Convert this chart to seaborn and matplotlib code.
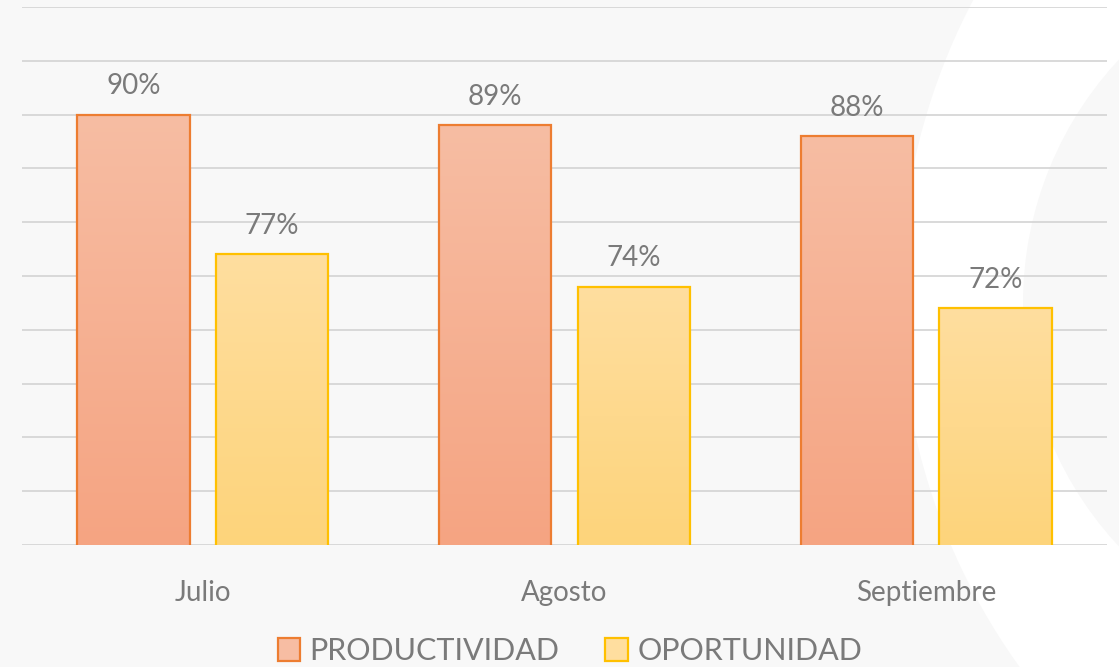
import matplotlib.pyplot as plt
import numpy as np
import pandas as pd
import seaborn as sns
from matplotlib.colors import LinearSegmentedColormap
from matplotlib.patches import Circle, Patch

meses = ["Julio", "Agosto", "Septiembre"]
productividad = [90, 89, 88]
oportunidad = [77, 74, 72]
series = ["PRODUCTIVIDAD", "OPORTUNIDAD"]

BG = "#F8F8F8"
TEXT = "#7A7A7A"
GRID = "#D9D9D9"
EDGES = {"PRODUCTIVIDAD": "#ED7D31", "OPORTUNIDAD": "#FFC000"}
GRADS = {
    "PRODUCTIVIDAD": ("#F7BDA3", "#F5A482"),
    "OPORTUNIDAD": ("#FFDE9F", "#FDD47B"),
}

df = pd.DataFrame({
    "mes": meses * 2,
    "valor": productividad + oportunidad,
    "serie": [series[0]] * 3 + [series[1]] * 3,
})

sns.set_theme(style="white")
plt.rcParams["font.family"] = ["Lato", "DejaVu Sans"]

W, H = 1119, 667
fig = plt.figure(figsize=(W / 100, H / 100), dpi=100, facecolor=BG)

# decorative white crescent on the right (pixel coords -> inches)
def px_circle(cx, cy, r, color):
    return Circle((cx / 100, (H - cy) / 100), r / 100, transform=fig.dpi_scale_trans,
                  facecolor=color, edgecolor="none", zorder=0)

fig.patches.append(px_circle(1535, 296, 635, "white"))
fig.patches.append(px_circle(1380, 303, 357, BG))

ax = fig.add_axes([22 / W, 1 - 545 / H, (1107 - 22) / W, (545 - 7) / H])
ax.set_zorder(2)
ax.patch.set_alpha(0)

sns.barplot(data=df, x="mes", y="valor", hue="serie", order=meses, hue_order=series,
            width=0.766, gap=0.19, palette=[GRADS[s][1] for s in series],
            legend=False, ax=ax, zorder=3)

ax.set_yticks(np.arange(50, 101, 5))
ax.yaxis.grid(True, color=GRID, linewidth=1.4, zorder=0)
ax.set_axisbelow(True)
for s in ax.spines.values():
    s.set_visible(False)
ax.tick_params(axis="y", left=False, labelleft=False)
ax.tick_params(axis="x", bottom=False, pad=19, labelsize=20, labelcolor=TEXT)
ax.set_xlabel("")
ax.set_ylabel("")

for cont, name in zip(ax.containers, series):
    cmap = LinearSegmentedColormap.from_list(name, [GRADS[name][1], GRADS[name][0]])
    for bar in cont:
        x0, y0 = bar.get_x(), bar.get_y()
        w, h = bar.get_width(), bar.get_height()
        bar.set_facecolor("none")
        bar.set_edgecolor(EDGES[name])
        bar.set_linewidth(1.6)
        bar.set_zorder(4)
        grad = np.linspace(0, 1, 256).reshape(-1, 1)
        im = ax.imshow(grad, cmap=cmap, origin="lower", aspect="auto",
                       extent=(x0, x0 + w, 50, y0 + h), zorder=3)
        im.set_clip_path(bar)
    ax.bar_label(cont, labels=[f"{v:.0f}%" for v in cont.datavalues], padding=11,
                 fontsize=20, color=TEXT)

ax.set_xlim(-0.5, 2.5)
ax.set_ylim(50, 100)

handles = [Patch(facecolor=GRADS[s][0], edgecolor=EDGES[s], linewidth=1.6, label=s)
           for s in series]
fig.legend(handles=handles, loc="center", bbox_to_anchor=(570 / W, 1 - 651 / H),
           ncol=2, frameon=False, fontsize=22, labelcolor=TEXT, handlelength=0.75,
           handleheight=0.75, handletextpad=0.3, columnspacing=1.5)

fig.savefig("out.png", dpi=100, facecolor=BG)
